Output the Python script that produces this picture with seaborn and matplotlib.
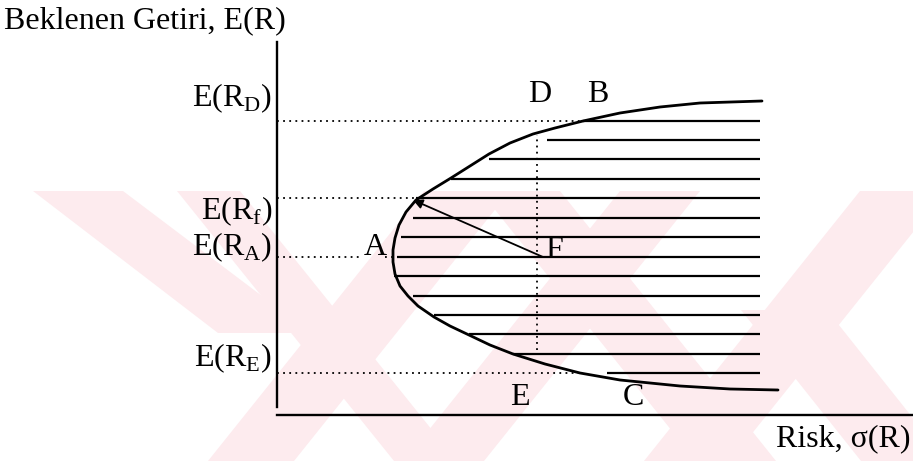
import numpy as np
import matplotlib
matplotlib.use("Agg")
import matplotlib.pyplot as plt
import seaborn as sns

# frontier: risk (sigma) and expected return, arbitrary units
CURVE_RISK = [4.85, 4.23, 3.83, 3.43, 3.06, 2.78, 2.56, 2.33, 2.12, 1.93, 1.74,
              1.56, 1.39, 1.29, 1.22, 1.18, 1.16, 1.16, 1.18, 1.23, 1.31, 1.41,
              1.57, 1.73, 1.92, 2.13, 2.36, 2.68, 3.03, 3.43, 4.03, 4.53, 5.01]
CURVE_RET = [3.14, 3.12, 3.08, 3.02, 2.94, 2.87, 2.81, 2.72, 2.61, 2.49, 2.37,
             2.26, 2.15, 2.03, 1.90, 1.77, 1.65, 1.53, 1.41, 1.29, 1.19, 1.09,
             0.98, 0.89, 0.80, 0.70, 0.61, 0.51, 0.42, 0.35, 0.29, 0.26, 0.25]

# horizontal shading lines inside the feasible set
HATCH_RET = [2.94, 2.75, 2.56, 2.36, 2.17, 1.97, 1.78, 1.58, 1.39, 1.19, 1.00, 0.81, 0.61, 0.42]
HATCH_START = [3.06, 2.70, 2.12, 1.74, 1.39, 1.36, 1.24, 1.20, 1.17, 1.36, 1.57, 1.92, 2.36, 3.30]
HATCH_END = 4.83

# reference returns on the y axis and where their dotted guides stop
LEVEL_NAMES = ["D", "f", "A", "E"]
LEVEL_RET = [2.94, 2.17, 1.58, 0.42]
LEVEL_STOP = [3.06, 1.39, 0.85, 3.03]
LEVEL_LABEL_Y = [3.17, 2.04, 1.68, 0.57]

# vertical dotted guide through D / F / E
VERT_RISK = 2.60
VERT_RET = (0.65, 2.80)

# arrow from F to the frontier point at E(Rf)
F_POINT = (2.66, 1.58)
RF_POINT = (1.36, 2.15)

POINT_NAMES = ["D", "B", "A", "F", "E", "C"]
POINT_RISK = [2.63, 3.21, 0.98, 2.77, 2.43, 3.56]
POINT_RET = [3.20, 3.20, 1.68, 1.65, 0.18, 0.18]

# faint watermark bands in the scan (pixel polygons)
WATERMARK = [
    [(33, 191), (123, 191), (311, 333), (218, 333)],
    [(177, 191), (240, 191), (457, 461), (394, 461)],
    [(424, 191), (510, 191), (294, 461), (208, 461)],
    [(620, 191), (700, 191), (484, 461), (404, 461)],
    [(480, 191), (560, 191), (776, 461), (696, 461)],
    [(860, 191), (946, 191), (730, 461), (644, 461)],
    [(741, 310), (827, 310), (947, 461), (861, 461)],
]

sns.set_style("white")
plt.rcParams["font.family"] = ["Liberation Serif", "DejaVu Serif"]
plt.rcParams["mathtext.fontset"] = "custom"
plt.rcParams["mathtext.rm"] = "Liberation Serif"
plt.rcParams["text.color"] = "black"

FS = 23

W, H = 913, 461
fig = plt.figure(figsize=(W / 100, H / 100), dpi=100)

bg = fig.add_axes([0, 0, 1, 1])
bg.set_xlim(0, W)
bg.set_ylim(H, 0)
bg.axis("off")
for poly in WATERMARK:
    xs, ys = zip(*poly)
    bg.fill(xs, ys, color="#fdebee", lw=0, zorder=0)

# main axes: y axis at x=277 px, x axis at y=415 px
ax = fig.add_axes([277 / W, (H - 415) / H, (W - 277) / W, (415 - 42) / H])
ax.patch.set_alpha(0)
ax.set_xlim(0, 6.36)
ax.set_ylim(0, 3.73)
ax.set_xticks([])
ax.set_yticks([])
sns.despine(ax=ax, top=True, right=True)
for side in ["left", "bottom"]:
    ax.spines[side].set_linewidth(1.7)
    ax.spines[side].set_color("black")
ax.spines["left"].set_bounds(0.08, 3.73)

dot = (0, (1.0, 2.4))
ax.hlines(HATCH_RET, HATCH_START, HATCH_END, color="black", lw=1.6)
sns.lineplot(x=CURVE_RISK, y=CURVE_RET, sort=False, estimator=None,
             color="black", lw=2.0, ax=ax)

for ret, stop in zip(LEVEL_RET, LEVEL_STOP):
    ax.plot([0, stop], [ret, ret], color="black", lw=1.3, linestyle=dot)
ax.plot([1.08, 1.15], [LEVEL_RET[2], LEVEL_RET[2]], color="black", lw=1.3, linestyle=dot)
ax.plot([VERT_RISK, VERT_RISK], VERT_RET, color="black", lw=1.3, linestyle=dot)

ax.annotate("", xy=RF_POINT, xytext=F_POINT,
            arrowprops=dict(arrowstyle="-|>", color="black", lw=1.3,
                            mutation_scale=14, shrinkA=0, shrinkB=0))

for name, x, y in zip(POINT_NAMES, POINT_RISK, POINT_RET):
    ax.text(x, y, name, fontsize=FS, ha="center", va="center")

for name, y in zip(LEVEL_NAMES, LEVEL_LABEL_Y):
    ax.text(-0.05, y, r"E(R$_{\mathregular{%s}}$)" % name, fontsize=FS,
            ha="right", va="center", clip_on=False)

bg.text(4, 21, "Beklenen Getiri, E(R)", fontsize=FS, ha="left", va="center")
bg.text(911, 439, "Risk, σ(R)", fontsize=FS, ha="right", va="center")

fig.savefig("out.png", dpi=100)
